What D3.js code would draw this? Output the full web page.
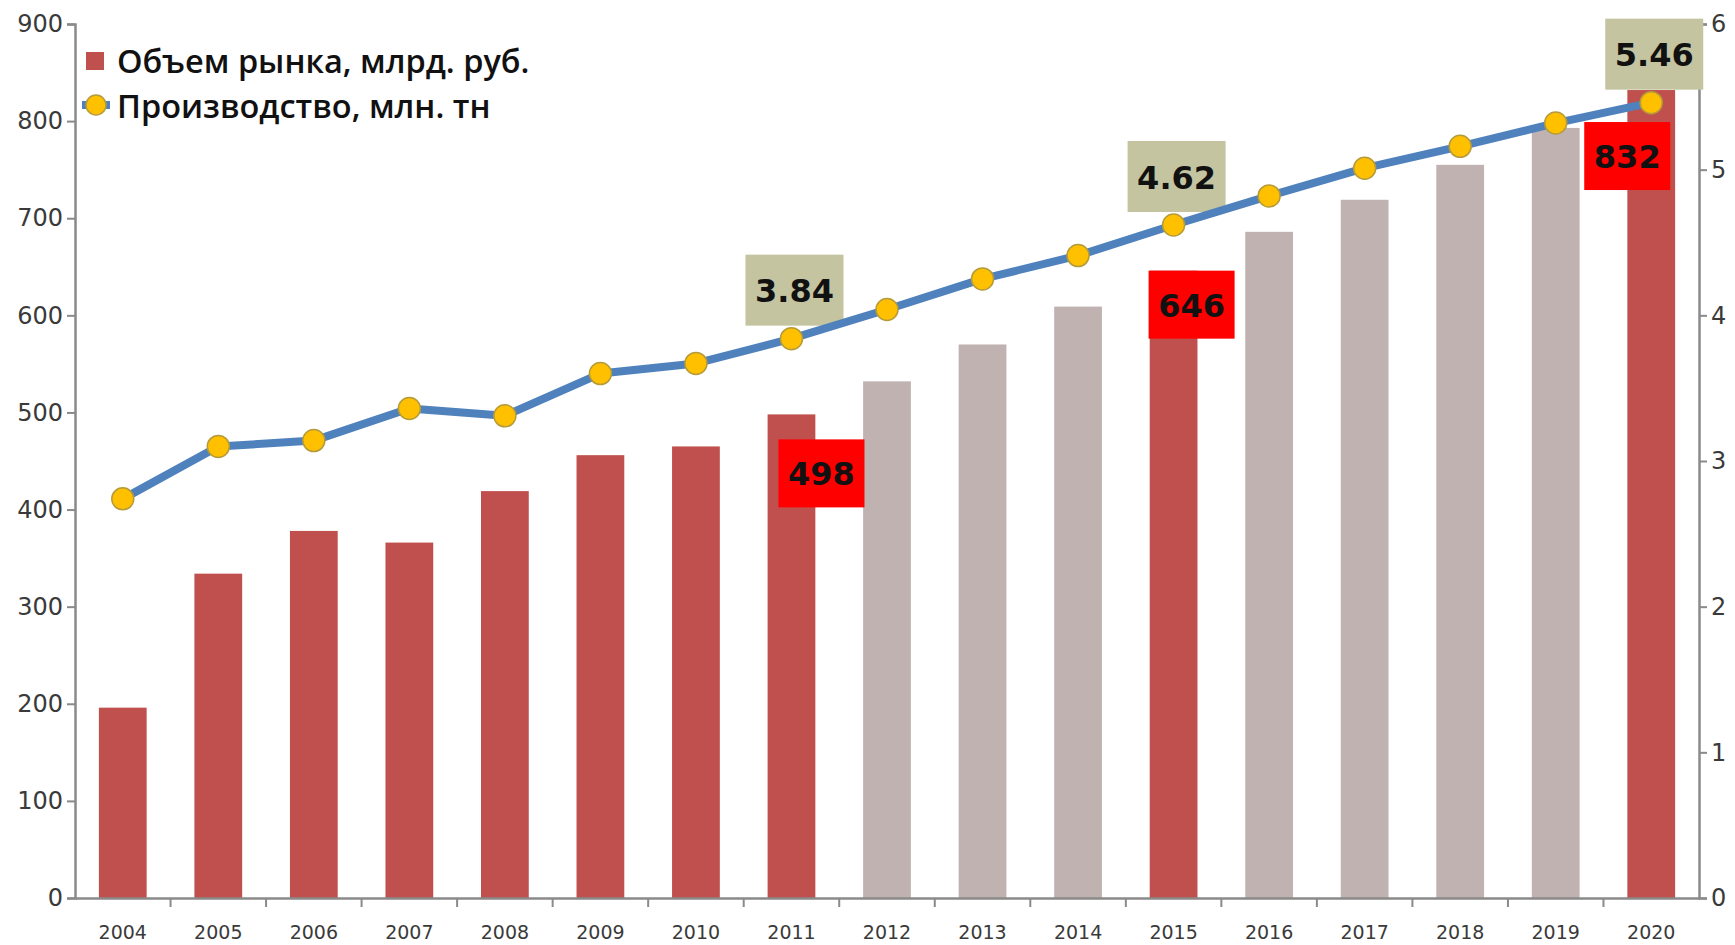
<!DOCTYPE html>
<html>
<head>
<meta charset="utf-8">
<script src="https://cdn.jsdelivr.net/npm/d3@7"></script>
<style>
  body { margin: 0; background: #fff; }
</style>
</head>
<body>
<div id="canvas"></div>
<script>
"use strict"

let drawingWidth = 1735;
let drawingHeight = 945;

/* chart values */
let years = ["2004", "2005", "2006", "2007", "2008", "2009", "2010", "2011", "2012",
             "2013", "2014", "2015", "2016", "2017", "2018", "2019", "2020"];
let marketVolume = [196, 334, 378, 366, 419, 456, 465, 498, 532,
                    570, 609, 646, 686, 719, 755, 793, 832];
let production = [2.74, 3.10, 3.14, 3.36, 3.31, 3.60, 3.67, 3.84, 4.04,
                  4.25, 4.41, 4.62, 4.82, 5.01, 5.16, 5.32, 5.46];
let highlightYears = ["2004", "2005", "2006", "2007", "2008", "2009", "2010", "2011", "2015", "2020"];
let labelYears = ["2011", "2015", "2020"];
let leftTicks = [0, 100, 200, 300, 400, 500, 600, 700, 800, 900];
let rightTicks = [0, 1, 2, 3, 4, 5, 6];
let legendNames = ["Объем рынка, млрд. руб.", "Производство, млн. тн"];

/* small nudges for the value boxes (layout only) */
let barLabelShift = { "2011": [30, 25], "2015": [18, 0], "2020": [-24, 32] };

let plotLeft = 75, plotRight = 1699, plotTop = 24, plotBottom = 898;

let drawing = d3.select("#canvas")
    .append("svg")
    .attr("width", drawingWidth)
    .attr("height", drawingHeight)
    .style("font-family", "'DejaVu Sans', sans-serif");

let x = d3.scaleBand()
    .domain(years)
    .range([plotLeft, plotRight])
    .paddingInner(0.5)
    .paddingOuter(0.25);

let yLeft = d3.scaleLinear().domain([0, 900]).range([plotBottom, plotTop]);
let yRight = d3.scaleLinear().domain([0, 6]).range([plotBottom, plotTop]);

let rows = years.map((y, i) => ({ year: y, volume: marketVolume[i], prod: production[i] }));

/* bars */
drawing.append("g")
    .selectAll("rect")
    .data(rows)
    .join("rect")
    .attr("x", d => x(d.year))
    .attr("y", d => yLeft(d.volume))
    .attr("width", x.bandwidth())
    .attr("height", d => yLeft(0) - yLeft(d.volume))
    .attr("fill", d => highlightYears.includes(d.year) ? "#C0504D" : "#C1B2B2");

/* axes */
let axisColor = "#8a8a8a";

let leftAxis = drawing.append("g")
    .attr("transform", `translate(${plotLeft},0)`)
    .call(d3.axisLeft(yLeft).tickValues(leftTicks).tickSize(8).tickPadding(4));

let rightAxis = drawing.append("g")
    .attr("transform", `translate(${plotRight},0)`)
    .call(d3.axisRight(yRight).tickValues(rightTicks).tickFormat(d3.format("d")).tickSize(8).tickPadding(4));

let bottomAxis = drawing.append("g")
    .attr("transform", `translate(0,${plotBottom})`)
    .call(d3.axisBottom(x).tickSize(0).tickPadding(28).tickSizeOuter(0));

/* ticks between the categories */
let boundaries = years.slice(1).map(y => x(y) - x.step() * 0.25);
drawing.append("g")
    .selectAll("line")
    .data(boundaries)
    .join("line")
    .attr("x1", d => d)
    .attr("x2", d => d)
    .attr("y1", plotBottom)
    .attr("y2", plotBottom + 9)
    .attr("stroke", axisColor)
    .attr("stroke-width", 2);

[leftAxis, rightAxis, bottomAxis].forEach(a => {
    a.selectAll("path.domain").attr("stroke", axisColor).attr("stroke-width", 2.5);
    a.selectAll(".tick line").attr("stroke", axisColor).attr("stroke-width", 2);
});
leftAxis.selectAll("text").attr("font-size", 24).attr("fill", "#3a3a3a").attr("font-family", "'DejaVu Sans', sans-serif");
rightAxis.selectAll("text").attr("font-size", 24).attr("fill", "#3a3a3a").attr("font-family", "'DejaVu Sans', sans-serif");
bottomAxis.selectAll("text").attr("font-size", 19).attr("fill", "#3a3a3a").attr("font-family", "'DejaVu Sans', sans-serif");

/* red value boxes for bars */
let barLabels = rows.filter(d => labelYears.includes(d.year));
let redBoxW = 86, redBoxH = 68;
let barLabelGroup = drawing.append("g")
    .selectAll("g")
    .data(barLabels)
    .join("g")
    .attr("transform", d => {
        let s = barLabelShift[d.year];
        let cx = x(d.year) + x.bandwidth() / 2 + s[0];
        let ty = yLeft(d.volume) + s[1];
        return `translate(${cx},${ty})`;
    });
barLabelGroup.append("rect")
    .attr("x", -redBoxW / 2)
    .attr("y", 0)
    .attr("width", redBoxW)
    .attr("height", redBoxH)
    .attr("fill", "#FF0000");
barLabelGroup.append("text")
    .attr("x", 0)
    .attr("y", redBoxH / 2 + 12)
    .attr("text-anchor", "middle")
    .attr("font-size", 32)
    .attr("font-weight", "bold")
    .attr("fill", "#111")
    .text(d => d.volume);

/* olive value boxes for the line */
let oliveBoxW = 98, oliveBoxH = 71;
let lineLabelGroup = drawing.append("g")
    .selectAll("g")
    .data(barLabels)
    .join("g")
    .attr("transform", d => {
        let cx = x(d.year) + x.bandwidth() / 2 + 3;
        let by = yRight(d.prod) - 13;
        return `translate(${cx},${by})`;
    });
lineLabelGroup.append("rect")
    .attr("x", -oliveBoxW / 2)
    .attr("y", -oliveBoxH)
    .attr("width", oliveBoxW)
    .attr("height", oliveBoxH)
    .attr("fill", "#C4C4A0");
lineLabelGroup.append("text")
    .attr("x", 0)
    .attr("y", -oliveBoxH / 2 + 12)
    .attr("text-anchor", "middle")
    .attr("font-size", 32)
    .attr("font-weight", "bold")
    .attr("fill", "#111")
    .text(d => d.prod.toFixed(2));

/* production line */
let productionLine = d3.line()
    .x(d => x(d.year) + x.bandwidth() / 2)
    .y(d => yRight(d.prod));

drawing.append("path")
    .datum(rows)
    .attr("d", productionLine)
    .attr("fill", "none")
    .attr("stroke", "#4F81BD")
    .attr("stroke-width", 8)
    .attr("stroke-linejoin", "round");

drawing.append("g")
    .selectAll("circle")
    .data(rows)
    .join("circle")
    .attr("cx", d => x(d.year) + x.bandwidth() / 2)
    .attr("cy", d => yRight(d.prod))
    .attr("r", 11)
    .attr("fill", "#FFC000")
    .attr("stroke", "#B59B3A")
    .attr("stroke-width", 1.5);

/* legend */
let legend = drawing.append("g")
    .attr("transform", "translate(86,0)");

legend.append("rect")
    .attr("x", 0)
    .attr("y", 52)
    .attr("width", 18)
    .attr("height", 18)
    .attr("fill", "#C0504D");

legend.append("line")
    .attr("x1", -4)
    .attr("x2", 24)
    .attr("y1", 105)
    .attr("y2", 105)
    .attr("stroke", "#4F81BD")
    .attr("stroke-width", 8);

legend.append("circle")
    .attr("cx", 10)
    .attr("cy", 105)
    .attr("r", 10)
    .attr("fill", "#FFC000")
    .attr("stroke", "#B59B3A")
    .attr("stroke-width", 1.5);

legend.selectAll("text")
    .data(legendNames)
    .join("text")
    .attr("x", 31)
    .attr("y", (d, i) => 73 + i * 45)
    .attr("font-family", "'Open Sans', sans-serif")
    .attr("font-size", 32.5)
    .attr("font-weight", 600)
    .attr("fill", "#111")
    .text(d => d);
</script>
</body>
</html>
